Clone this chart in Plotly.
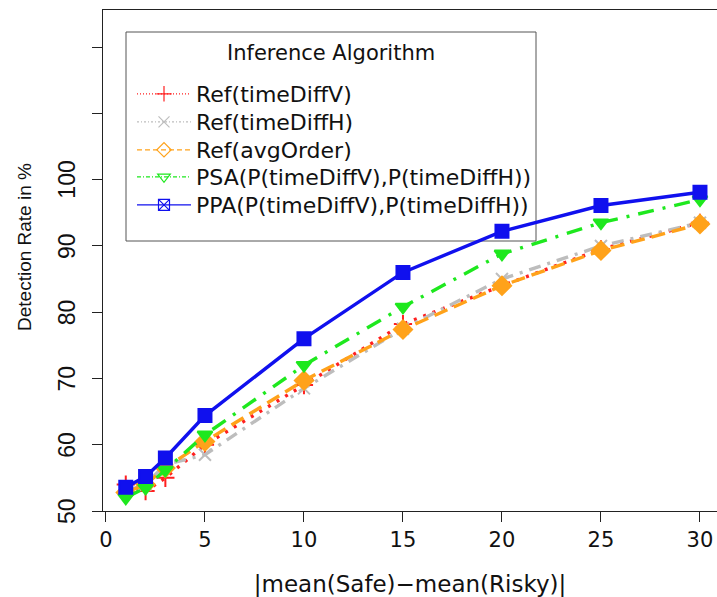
import plotly.graph_objects as go

# Mean difference between the safe and risky option
diff = [1, 2, 3, 5, 10, 15, 20, 25, 30]

# Detection rate (%) per inference algorithm
ref_time_diff_v = [54.0, 53.0, 55.0, 60.0, 69.0, 78.2, 84.0, 89.5, 93.5]
ref_time_diff_h = [53.0, 54.0, 57.0, 58.5, 68.5, 77.5, 85.0, 90.0, 93.5]
ref_avg_order = [52.8, 54.0, 56.5, 60.5, 69.7, 77.4, 84.0, 89.3, 93.3]
psa = [52.0, 53.5, 56.2, 61.5, 72.0, 80.8, 88.8, 93.5, 97.0]
ppa = [53.6, 55.2, 58.0, 64.4, 76.0, 86.0, 92.2, 96.1, 98.1]

names = [
    "Ref(timeDiffV)",
    "Ref(timeDiffH)",
    "Ref(avgOrder)",
    "PSA(P(timeDiffV),P(timeDiffH))",
    "PPA(P(timeDiffV),P(timeDiffH))",
]
series = [ref_time_diff_v, ref_time_diff_h, ref_avg_order, psa, ppa]

x_ticks = [0, 5, 10, 15, 20, 25, 30]
y_ticks = [50, 60, 70, 80, 90, 100, 110, 120]
y_tick_text = ["50", "60", "70", "80", "90", "100", "", ""]

colors = ["#ff2020", "#bdbdbd", "#ffa21a", "#1ee81e", "#1010ee"]
dashes = ["3px,7px", "12px,7px,3px,7px", "14px,7px", "16px,9px,3px,9px", "solid"]
legend_dashes = ["1px,2px", "2px,2px,1px,2px", "5px,3px", "4px,2px,1px,2px", "solid"]
symbols = ["cross-thin", "x-thin", "diamond", "triangle-down", "square"]
legend_symbols = ["cross-thin", "x-thin", "diamond-open", "triangle-down-open", "square-x-open"]
sizes = [13, 12, 14, 13, 13]

WIDE = "DejaVu Sans, Verdana, sans-serif"
NARROW = "Liberation Sans, Arial, sans-serif"

# Plot area in pixels (used to place legend pieces in paper coordinates)
W, H = 717, 597
L, R, T, B = 103, 0, 10, 86
PW, PH = W - L - R, H - T - B


def px_x(px):
    return (px - L) / PW


def px_y(py):
    return (H - B - py) / PH


fig = go.Figure()

for name, ys, c, d, s, sz in zip(names, series, colors, dashes, symbols, sizes):
    fig.add_trace(go.Scatter(
        x=diff, y=ys, mode="lines+markers", showlegend=False,
        line=dict(color=c, width=3.4, dash=d),
        marker=dict(symbol=s, size=sz, color=c, line=dict(color=c, width=2)),
    ))

# Legend entries: thin lines with open symbols, one legend per row
legend_rows = [94, 122, 150, 177, 205]
legend_layouts = {}
for i, (name, c, d, s, row) in enumerate(zip(names, colors, legend_dashes, legend_symbols, legend_rows)):
    key = "legend" if i == 0 else f"legend{i + 1}"
    fig.add_trace(go.Scatter(
        x=[None], y=[None], mode="lines+markers", name=name, legend=key,
        line=dict(color=c, width=1.2, dash=d),
        marker=dict(symbol=s, size=11, color=c, line=dict(color=c, width=1.2)),
    ))
    legend_layouts[key] = dict(
        x=px_x(132), y=px_y(row), xanchor="left", yanchor="middle",
        bgcolor="rgba(0,0,0,0)", borderwidth=0,
        font=dict(size=22, color="#111111", family=WIDE),
        itemwidth=54,
    )

fig.update_layout(**legend_layouts)

# Legend frame and heading
fig.add_shape(
    type="rect", xref="paper", yref="paper",
    x0=px_x(126), x1=px_x(536), y0=px_y(241), y1=px_y(32),
    line=dict(color="#555555", width=1), fillcolor="white", layer="below",
)
fig.add_annotation(
    text="Inference Algorithm", xref="paper", yref="paper",
    x=px_x(331), y=px_y(53), xanchor="center", yanchor="middle",
    showarrow=False, font=dict(size=21, family=WIDE, color="#111111"),
)

# Y tick labels, rotated and set a little away from the axis
for val, txt in zip(y_ticks, y_tick_text):
    if txt:
        fig.add_annotation(
            text=txt, xref="paper", yref="y", x=px_x(67), y=val,
            xanchor="center", yanchor="middle", textangle=-90, showarrow=False,
            font=dict(size=23, family=NARROW, color="#111111"),
        )

# Y axis title
fig.add_annotation(
    text="Detection Rate in %", xref="paper", yref="paper",
    x=px_x(25), y=px_y(247), xanchor="center", yanchor="middle",
    textangle=-90, showarrow=False,
    font=dict(size=19, family=NARROW, color="#111111"),
)

fig.update_layout(
    width=W, height=H,
    margin=dict(l=L, r=R, t=T, b=B),
    paper_bgcolor="white", plot_bgcolor="white",
    font=dict(family=WIDE, color="#111111"),
    xaxis=dict(
        range=[-0.15, 30.86], tickvals=x_ticks,
        ticks="outside", ticklen=10, tickcolor="#222222", tickwidth=1,
        showline=True, linecolor="#222222", linewidth=1, mirror=True,
        showgrid=False, zeroline=False,
        tickfont=dict(size=21, family=WIDE),
        title=dict(text="|mean(Safe)\u2212mean(Risky)|",
                   font=dict(size=23, family=WIDE), standoff=24),
    ),
    yaxis=dict(
        range=[50, 125.6], tickvals=y_ticks, showticklabels=False,
        ticks="outside", ticklen=10, tickcolor="#222222", tickwidth=1,
        showline=True, linecolor="#222222", linewidth=1,
        showgrid=False, zeroline=False,
    ),
)

fig.write_html("out.html")
